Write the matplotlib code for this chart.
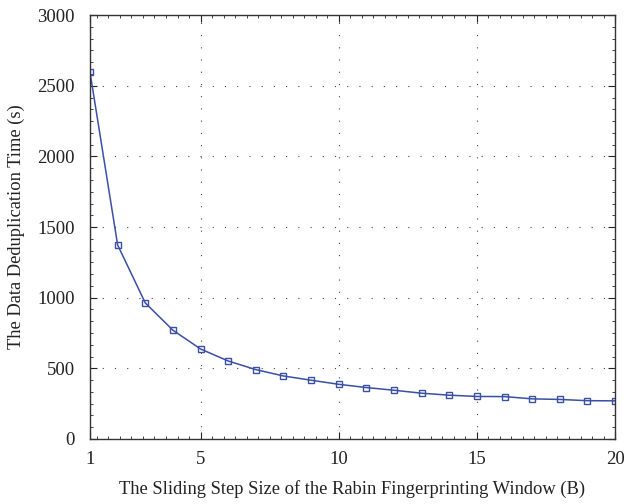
import matplotlib
matplotlib.use("Agg")
import matplotlib.pyplot as plt
from matplotlib.ticker import MultipleLocator

step_size = list(range(1, 21))
dedup_time = [2595, 1373, 963, 770, 637, 552, 491, 446, 416, 387,
              364, 345, 324, 310, 301, 300, 284, 280, 271, 270]

x_ticks = [1, 5, 10, 15, 20]
y_ticks = [0, 500, 1000, 1500, 2000, 2500, 3000]

plt.rcParams['font.family'] = ['Liberation Serif', 'DejaVu Serif']

fig = plt.figure(figsize=(6.26, 5.04), dpi=100)
ax = fig.add_axes([0.1438, 0.129, 0.8387, 0.841])

ax.plot(step_size, dedup_time, color='#3a4fa6', linewidth=1.1,
        marker='s', markersize=4.5, markerfacecolor='none',
        markeredgecolor='#3a4fa6', markeredgewidth=1.0)

ax.set_xlim(1, 20)
ax.set_ylim(0, 3000)
ax.set_xticks(x_ticks)
ax.set_yticks(y_ticks)
ax.xaxis.set_minor_locator(MultipleLocator(5 / 12))
ax.yaxis.set_minor_locator(MultipleLocator(500 / 6))
ax.tick_params(which='both', direction='in', top=True, right=True,
               labelsize=13.5, colors='#222222', width=0.8)
ax.tick_params(which='major', length=5)
ax.tick_params(which='minor', length=2.5, width=0.6)
ax.tick_params(axis='x', pad=9)
ax.tick_params(axis='y', pad=11)

ax.grid(True, which='major', linestyle=(0, (1, 10)), color='#444444', linewidth=0.8)

for s in ax.spines.values():
    s.set_linewidth(1.0)
    s.set_color('#333333')

ax.set_xlabel('The Sliding Step Size of the Rabin Fingerprinting Window (B)', fontsize=13.3, color='#222222', labelpad=8)
ax.set_ylabel('The Data Deduplication Time (s)', fontsize=13.3, color='#222222', labelpad=9)

fig.savefig('out.png', dpi=100)
